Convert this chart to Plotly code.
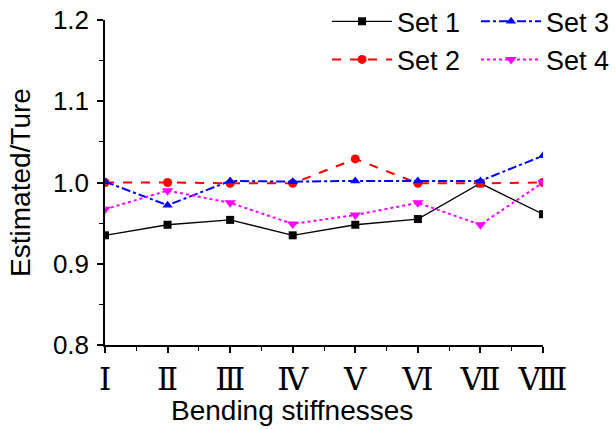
import plotly.graph_objects as go

categories = ["Ⅰ", "Ⅱ", "Ⅲ", "Ⅳ", "Ⅴ", "Ⅵ", "Ⅶ", "Ⅷ"]
set1 = [0.935, 0.948, 0.954, 0.935, 0.948, 0.955, 0.999, 0.961]
set2 = [1.000, 1.000, 0.999, 0.999, 1.029, 0.999, 0.999, 1.000]
set3 = [1.001, 0.972, 1.002, 1.001, 1.002, 1.002, 1.002, 1.033]
set4 = [0.967, 0.990, 0.975, 0.949, 0.960, 0.975, 0.948, 1.000]

xpos = list(range(len(categories)))

fig = go.Figure()
fig.add_trace(go.Scatter(x=xpos, y=set1, name="Set 1", mode="lines+markers",
                         line=dict(color="black", width=1.3),
                         marker=dict(symbol="square", size=8, color="black"),
                         legend="legend"))
fig.add_trace(go.Scatter(x=xpos, y=set2, name="Set 2", mode="lines+markers",
                         line=dict(color="red", width=2, dash="dash"),
                         marker=dict(symbol="circle", size=9, color="red"),
                         legend="legend"))
fig.add_trace(go.Scatter(x=xpos, y=set3, name="Set 3", mode="lines+markers",
                         line=dict(color="blue", width=2, dash="dashdot"),
                         marker=dict(symbol="triangle-up", size=9, color="blue"),
                         legend="legend2"))
fig.add_trace(go.Scatter(x=xpos, y=set4, name="Set 4", mode="lines+markers",
                         line=dict(color="magenta", width=2, dash="dot"),
                         marker=dict(symbol="triangle-down", size=10, color="magenta"),
                         legend="legend2"))

fig.update_layout(
    width=616, height=429,
    margin=dict(l=105, r=73, t=20, b=84, autoexpand=False),
    paper_bgcolor="white", plot_bgcolor="white",
    font=dict(family="Arial, Liberation Sans, sans-serif", size=26, color="black"),
    legend=dict(x=0.507, y=1.07, xanchor="left", yanchor="top", bgcolor="rgba(0,0,0,0)",
                font=dict(size=27), itemwidth=60, tracegroupgap=0),
    legend2=dict(x=0.847, y=1.07, xanchor="left", yanchor="top", bgcolor="rgba(0,0,0,0)",
                 font=dict(size=27), itemwidth=60, tracegroupgap=0),
    xaxis=dict(range=[0, 7], tickvals=xpos, ticktext=categories,
               showgrid=False, zeroline=False, showline=True, linecolor="black", linewidth=1.5,
               ticks="outside", ticklen=6, tickcolor="black", tickwidth=1.5,
               tickfont=dict(family="DejaVu Serif, Liberation Serif, serif", size=31),
               ticklabeloverflow="allow",
               minor=dict(dtick=0.5, ticks="outside", ticklen=4, tickcolor="black", tickwidth=1.2)),
    yaxis=dict(range=[0.8, 1.2], dtick=0.1, tickformat=".1f",
               showgrid=False, zeroline=False, showline=True, linecolor="black", linewidth=1.5,
               ticks="outside", ticklen=6, tickcolor="black", tickwidth=1.5,
               ticklabeloverflow="allow", ticklabelstandoff=3,
               minor=dict(dtick=0.05, ticks="outside", ticklen=4, tickcolor="black", tickwidth=1.2),
               title=dict(text="Estimated/Ture", font=dict(size=28), standoff=14)),
    annotations=[dict(text="Bending stiffnesses", xref="paper", yref="paper",
                      x=0.427, y=-0.2, xanchor="center", yanchor="middle",
                      showarrow=False, font=dict(size=28))],
)

fig.write_html("out.html", config={"displayModeBar": False},
               post_script="document.body.style.margin='0';")
